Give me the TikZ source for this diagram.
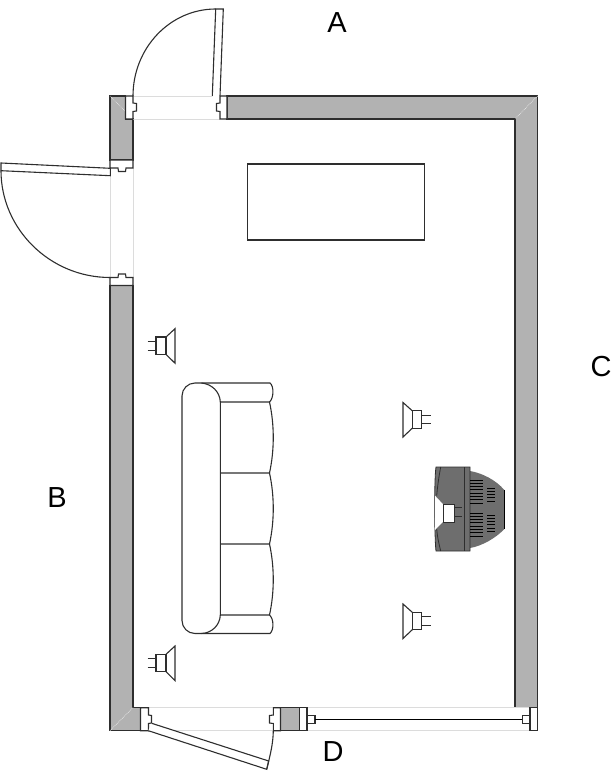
\documentclass[tikz,border=0pt]{standalone}
\usepackage{fontspec}
\setmainfont{Liberation Sans}
\definecolor{wallgray}{HTML}{B2B2B2}
\definecolor{seatgray}{HTML}{6E6E6E}
\definecolor{edgegray}{HTML}{2E2E2E}
\definecolor{opengray}{HTML}{DCDCDC}
\tikzset{
  wall/.style={draw=edgegray,line width=1.3pt,fill=wallgray},
  thin line/.style={draw=edgegray,line width=1.1pt},
  opening/.style={draw=opengray,line width=0.8pt},
  mitre/.style={draw=white!75!wallgray,line width=0.7pt,densely dotted},
  room label/.style={font=\fontsize{29}{29}\selectfont,inner sep=0pt}
}
\begin{document}
\begin{tikzpicture}[x=1pt,y=-1pt]
  \useasboundingbox (0,0) rectangle (613,773);

  % Wall pieces
  \draw[wall] (110,96) -- (125.5,96) -- (125.5,119) -- (133,119) -- (133,160) -- (110,160) -- cycle;
  \draw[wall] (110,285.5) -- (133,285.5) -- (133,707.7) -- (140.5,707.7) -- (140.5,730.7) -- (110,730.7) -- cycle;
  \draw[wall] (227,96) -- (537.5,96) -- (537.5,707.7) -- (515,707.7) -- (515,119) -- (227,119) -- cycle;
  \draw[wall] (280.5,707.7) rectangle (299.5,730.7);

  % Mitre lines at the corners
  \draw[mitre] (110,96) -- (125.5,111.5);
  \draw[mitre] (537.5,96) -- (515,119);
  \draw[mitre] (110,730.7) -- (133,707.7);

  % Openings
  \draw[opening] (133,96) -- (212,96);
  \draw[opening] (133,119) -- (220,119);
  \draw[opening] (110,176) -- (110,277.5);
  \draw[opening] (133,168) -- (133,277.5);
  \draw[opening] (148.5,707.7) -- (273.3,707.7);
  \draw[opening] (148.5,730.7) -- (273.3,730.7);
  \draw[opening] (307,707.7) -- (530,707.7);
  \draw[opening] (307,730.7) -- (530,730.7);

  % Jambs of door A
  \draw[thin line,fill=white] (125.5,96) -- (133,96) -- (133,103) -- (136.5,103.5) -- (136.5,111) -- (133,111.5) -- (133,119) -- (125.5,119) -- cycle;
  \draw[thin line,fill=white] (227,96) -- (220,96) -- (220,103) -- (216.5,103.5) -- (216.5,111) -- (220,111.5) -- (220,119) -- (227,119) -- cycle;

  % Jambs of door B
  \draw[thin line,fill=white] (110,160) -- (133,160) -- (133,168) -- (126,168) -- (125.5,171.5) -- (118.5,171.5) -- (118,168) -- (110,168) -- cycle;
  \draw[thin line,fill=white] (110,285.5) -- (133,285.5) -- (133,277.5) -- (126,277.5) -- (125.5,274) -- (118.5,274) -- (118,277.5) -- (110,277.5) -- cycle;

  % Jambs of door D
  \draw[thin line,fill=white] (140.5,707.7) -- (148.5,707.7) -- (148.5,715) -- (151.5,715.5) -- (151.5,723) -- (148.5,723.5) -- (148.5,730.7) -- (140.5,730.7) -- cycle;
  \draw[thin line,fill=white] (280.5,707.7) -- (273.3,707.7) -- (273.3,715) -- (269.5,715.5) -- (269.5,723) -- (273.3,723.5) -- (273.3,730.7) -- (280.5,730.7) -- cycle;

  % Sliding window
  \draw[thin line,fill=white] (299.5,707.7) rectangle (307,730.7);
  \draw[thin line,fill=white] (307,715.5) rectangle (315,723.3);
  \draw[thin line,fill=white] (522.3,715.5) rectangle (530,723.3);
  \draw[thin line,fill=white] (530,707.7) rectangle (537.5,730.7);
  \draw[draw=black,line width=1pt] (315,719.4) -- (522.3,719.4);

  % Door A
  \draw[thin line,fill=white] (212.3,96) -- (215.7,9) -- (223.3,9) -- (220,96);
  \draw[thin line] (133,96) .. controls (133,48) and (170,9) .. (215.7,9);

  % Door B
  \draw[thin line,fill=white] (110.3,168.3) -- (1,163) -- (1,170.7) -- (110.3,175.7) -- cycle;
  \draw[thin line] (1,170.7) .. controls (1,229) and (50,277.5) .. (110,277.5);

  % Door D
  \draw[thin line,fill=white] (151.7,723.3) -- (268.7,761) -- (266.7,769.3) -- (148.3,730.7);
  \draw[thin line] (273.3,731) .. controls (273,743) and (271,752) .. (266.7,769.3);

  % Table
  \draw[thin line] (247.5,164) rectangle (424.5,240);

  % Sofa
  \draw[thin line] (182,396) arc (180:270:13) -- (270,383) .. controls (274,386) and (274,398) .. (269.5,402);
  \draw[thin line] (201.5,383) .. controls (212,384) and (220,392) .. (220.3,402) -- (220.3,615);
  \draw[thin line] (220.3,402) -- (269.5,402) .. controls (274.5,425) and (274.5,450) .. (269.5,473);
  \draw[thin line] (220.3,473) -- (269.5,473) .. controls (274.5,496) and (274.5,521) .. (269.5,544);
  \draw[thin line] (220.3,544) -- (269.5,544) .. controls (274.5,567) and (274.5,592) .. (269.5,615);
  \draw[thin line] (220.3,615) -- (269.5,615) .. controls (274,619) and (274,630) .. (270,633.5) -- (195,633.5) arc (90:180:13) -- (182,396);
  \draw[thin line] (220.3,615) .. controls (220,625) and (212,633) .. (201.5,633.5);

  % Speakers on the left
  \foreach \ypos in {345.7,663} {
    \draw[thin line] (156,\ypos-8.7) rectangle (166,\ypos+8.7);
    \draw[thin line] (166,\ypos-8.7) -- (175,\ypos-17) -- (175,\ypos+17.5) -- (166,\ypos+8.7);
    \draw[thin line] (147.5,\ypos-4.4) -- (156,\ypos-4.4);
    \draw[thin line] (147.5,\ypos+4.4) -- (156,\ypos+4.4);
  }

  % Speakers on the right
  \foreach \ypos in {419.5,621} {
    \draw[thin line] (412.3,\ypos-8.7) rectangle (421.7,\ypos+8.7);
    \draw[thin line] (412.3,\ypos-8.7) -- (403,\ypos-17) -- (403,\ypos+17.5) -- (412.3,\ypos+8.7);
    \draw[thin line] (421.7,\ypos-4.4) -- (430.7,\ypos-4.4);
    \draw[thin line] (421.7,\ypos+4.4) -- (430.7,\ypos+4.4);
  }

  % Television
  \fill[seatgray] (470,471) .. controls (482,473) and (496,480) .. (504.3,490) -- (504.3,529) .. controls (496,538) and (482,546) .. (470,548) -- cycle;
  \draw[edgegray,line width=0.8pt,fill=seatgray] (436,467) -- (470,467) -- (470,551) -- (436,551) .. controls (434.5,540) and (434,480) .. (436,467) -- cycle;
  \draw[black,line width=1pt] (504.3,490) -- (504.3,529);
  \draw[edgegray,line width=0.8pt] (464.7,467) -- (464.7,551);
  \draw[edgegray,line width=0.8pt] (440.7,467) .. controls (439,476) and (437.5,486) .. (436.7,495.7);
  \draw[edgegray,line width=0.8pt] (436.7,529) .. controls (437.5,538) and (439,544) .. (440.7,551);
  \fill[white] (435,495.7) -- (443.3,504.5) -- (443.3,521.5) -- (435,530) -- cycle;
  \draw[edgegray,line width=0.8pt,fill=white] (443.3,504.5) rectangle (454.3,522);
  \draw[edgegray,line width=0.8pt] (454.3,507.7) -- (462,507.7);
  \draw[edgegray,line width=0.8pt] (454.3,516.7) -- (462,516.7);
  \foreach \ypos in {480,483.3,...,504} {
    \draw[black,line width=0.9pt] (470,\ypos) -- (483,\ypos);
  }
  \foreach \ypos in {488,491.3,...,503} {
    \draw[black,line width=0.9pt] (487,\ypos) -- (495,\ypos);
  }
  \foreach \ypos in {513,516.3,...,537} {
    \draw[black,line width=0.9pt] (470,\ypos) -- (483,\ypos);
  }
  \foreach \ypos in {515,518.3,...,534} {
    \draw[black,line width=0.9pt] (487,\ypos) -- (495,\ypos);
  }

  % Labels of the walls
  \node[room label] (labelA) at (337,23) {A};
  \node[room label] (labelB) at (57,498) {B};
  \node[room label] (labelC) at (601,367) {C};
  \node[room label] (labelD) at (333,752) {D};

\end{tikzpicture}
\end{document}
